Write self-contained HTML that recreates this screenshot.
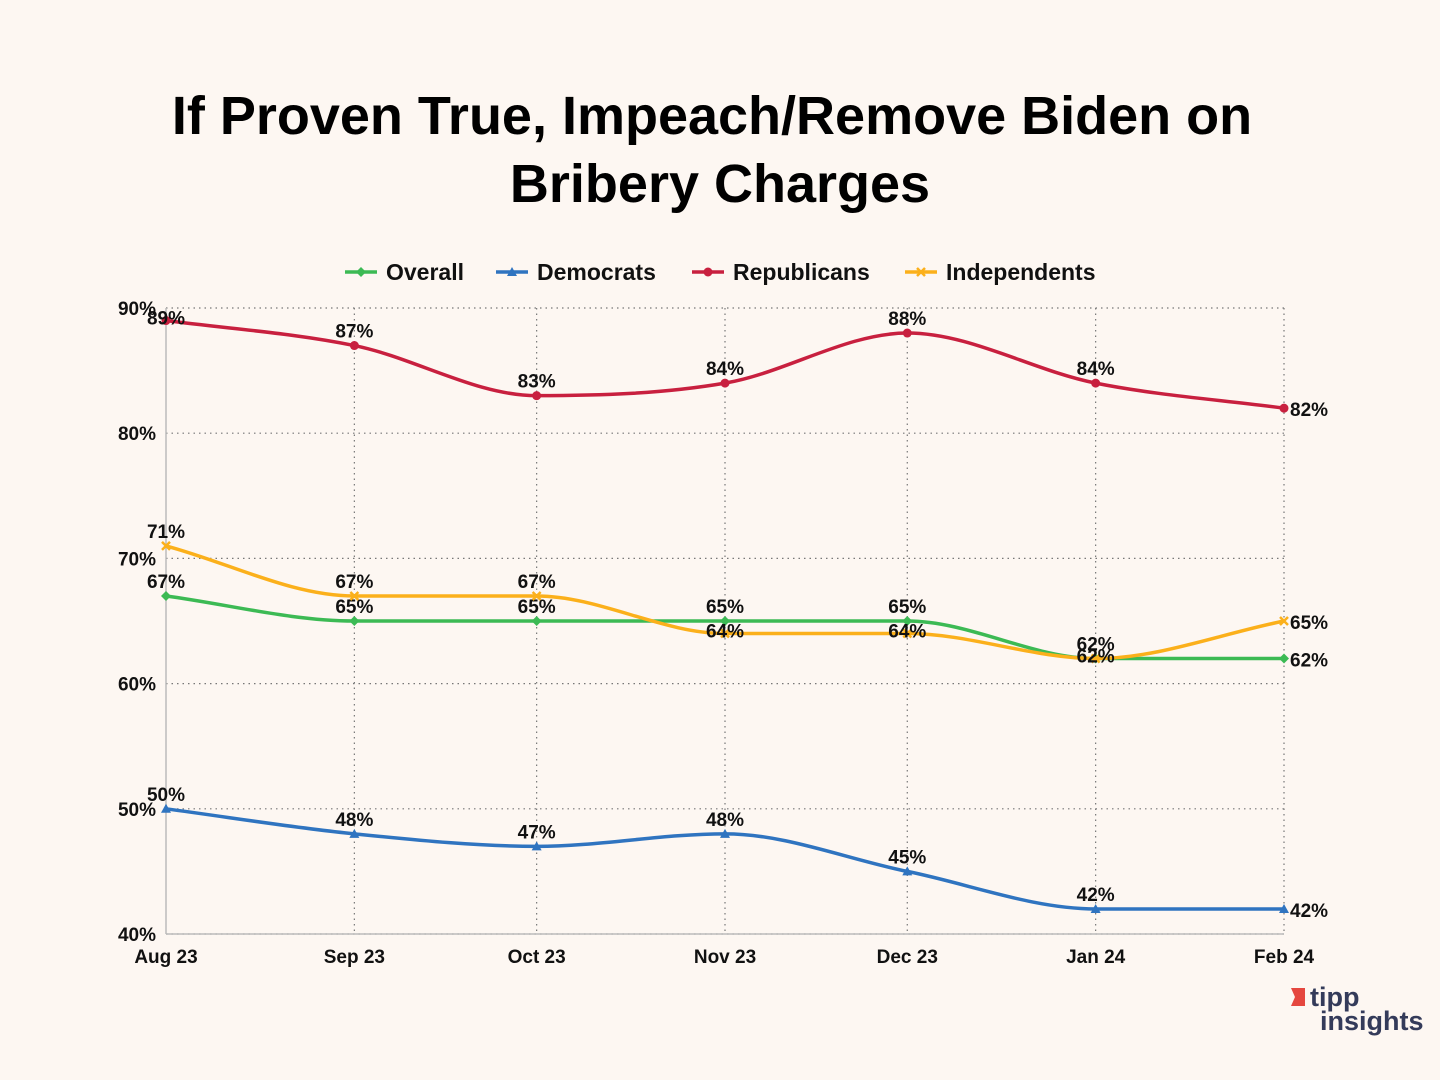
<!DOCTYPE html>
<html><head><meta charset="utf-8"><style>
body{margin:0;background:#fdf7f2;}
svg{display:block;font-family:"Liberation Sans",sans-serif;}
</style></head><body>
<svg id="c" width="1440" height="1080">
<rect width="1440" height="1080" fill="#fdf7f2"/>
<text x="712" y="134" text-anchor="middle" font-size="54" font-weight="bold" fill="#000">If Proven True, Impeach/Remove Biden on</text>
<text x="720" y="202" text-anchor="middle" font-size="54" font-weight="bold" fill="#000">Bribery Charges</text>
<g id="grid"></g><g id="series"></g><g id="legend"></g>
<g>
<polygon points="1291,988 1305,988 1305,1006 1291,1006 1295,997" fill="#e5473f"/>
<text x="1310" y="1006" font-size="27" font-weight="bold" fill="#343b5a">tipp</text>
<text x="1320" y="1030" font-size="27" font-weight="bold" fill="#343b5a">insights</text>
</g>
</svg>
<script>
const categories=["Aug 23","Sep 23","Oct 23","Nov 23","Dec 23","Jan 24","Feb 24"];
const dayOffsets=[0,31,61,92,122,153,184];
const overall=[67,65,65,65,65,62,62];
const democrats=[50,48,47,48,45,42,42];
const republicans=[89,87,83,84,88,84,82];
const independents=[71,67,67,64,64,62,65];
const yTicks=[40,50,60,70,80,90];
const NS="http://www.w3.org/2000/svg";
const X0=166,X1=1284,Y0=934,Y1=308;
const xs=d=>X0+(X1-X0)*d/184;
const ys=v=>Y0-(Y0-Y1)*(v-40)/50;
function el(t,a,p){const e=document.createElementNS(NS,t);for(const k in a)e.setAttribute(k,a[k]);p.appendChild(e);return e;}
const grid=document.getElementById('grid');
yTicks.forEach(t=>{
 const l=el('line',{x1:X0,x2:X1,y1:ys(t),y2:ys(t),stroke:'#777','stroke-dasharray':'1.5 4','stroke-width':1.2},grid);
 
 
 const tx=el('text',{x:156,y:ys(t)+7,'text-anchor':'end','font-size':19,'font-weight':'bold',fill:'#111'},grid);
 tx.textContent=t+'%';
 
 
});
categories.forEach((c,i)=>{
 const x=xs(dayOffsets[i]);
 if(i>0){const l=el('line',{x1:x,x2:x,y1:Y1,y2:Y0,stroke:'#777','stroke-dasharray':'1.5 4','stroke-width':1.2},grid);
 
 }
 const tx=el('text',{x:x,y:963,'text-anchor':'middle','font-size':19,'font-weight':'bold',fill:'#111'},grid);
 tx.textContent=c;
 
 
});
const ax=el('line',{x1:X0,x2:X0,y1:Y1,y2:Y0,stroke:'#bbb','stroke-width':1.5},grid);


const ax2=el('line',{x1:X0,x2:X1,y1:Y0,y2:Y0,stroke:'#bbb','stroke-width':1.5},grid);



function monoPath(p){
 const n=p.length,d=[],m=[];
 for(let i=0;i<n-1;i++)d.push((p[i+1][1]-p[i][1])/(p[i+1][0]-p[i][0]));
 for(let i=0;i<n;i++){
  if(i==0)m.push(d[0]);else if(i==n-1)m.push(d[n-2]);
  else m.push(d[i-1]*d[i]<=0?0:(d[i-1]+d[i])/2);
 }
 let s='M'+p[0][0]+','+p[0][1];
 for(let i=0;i<n-1;i++){const h=(p[i+1][0]-p[i][0])/3;
  s+=' C'+(p[i][0]+h)+','+(p[i][1]+m[i]*h)+' '+(p[i+1][0]-h)+','+(p[i+1][1]-m[i+1]*h)+' '+p[i+1][0]+','+p[i+1][1];}
 return s;
}
const series=[
 {name:'Overall',vals:overall,color:'#3cba54',marker:'diamond',pos:['a','a','a','a','a','a','r']},
 {name:'Democrats',vals:democrats,color:'#2f74c0',marker:'tri',pos:['a','a','a','a','a','a','r']},
 {name:'Republicans',vals:republicans,color:'#c8203f',marker:'dot',pos:['c','a','a','a','a','a','r']},
 {name:'Independents',vals:independents,color:'#fbb01b',marker:'x',pos:['a','a','a','c','c','c','r']}
];
function marker(g,type,x,y,c){
 let m;
 if(type=='dot')m=el('circle',{cx:x,cy:y,r:4.5,fill:c},g);
 else if(type=='diamond')m=el('polygon',{points:`${x},${y-5} ${x+5},${y} ${x},${y+5} ${x-5},${y}`,fill:c},g);
 else if(type=='tri')m=el('polygon',{points:`${x},${y-5} ${x+5},${y+4} ${x-5},${y+4}`,fill:c},g);
 else m=el('path',{d:`M${x-4},${y-4}L${x+4},${y+4}M${x+4},${y-4}L${x-4},${y+4}`,stroke:c,'stroke-width':2.5},g);
 return m;
}
const sg=document.getElementById('series');
series.forEach(s=>{
 const g=el('g',{},sg);
 
 
 const pts=s.vals.map((v,i)=>[xs(dayOffsets[i]),ys(v)]);
 const p=el('path',{d:monoPath(pts),fill:'none',stroke:s.color,'stroke-width':3.5},g);
 
 
 pts.forEach((pt,i)=>{
  const m=marker(g,s.marker,pt[0],pt[1],s.color);
  
  
  const pos=s.pos[i];
  let tx=pt[0],ty=pt[1]-8,anc='middle';
  if(pos=='r'){tx=pt[0]+6;ty=pt[1]+8;anc='start';}
  if(pos=='c'){ty=pt[1]+4;}
  const t=el('text',{x:tx,y:ty,'text-anchor':anc,'font-size':19,'font-weight':'bold',fill:'#111'},g);
  t.textContent=s.vals[i]+'%';
  
  
 });
});
const lg=document.getElementById('legend');
const lx=[345,496,692,905];
series.forEach((s,i)=>{
 const g=el('g',{},lg);
 
 
 el('line',{x1:lx[i],x2:lx[i]+32,y1:272,y2:272,stroke:s.color,'stroke-width':3.5},g);
 marker(g,s.marker,lx[i]+16,272,s.color);
 const t=el('text',{x:lx[i]+41,y:280,'font-size':23,'font-weight':'bold',fill:'#111'},g);
 t.textContent=s.name;
});
</script>
</body></html>
